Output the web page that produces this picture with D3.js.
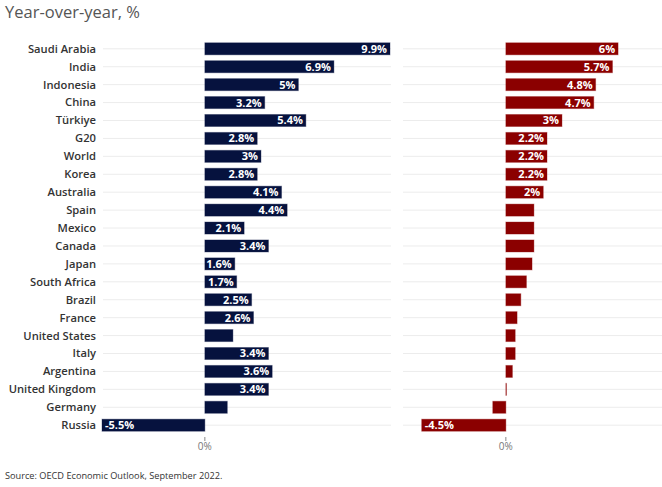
<!DOCTYPE html>
<html>
<head>
<meta charset="utf-8">
<script src="https://cdn.jsdelivr.net/npm/d3@7"></script>
<style>
  body { margin: 0; background: #fff; }
  svg { display: block; font-family: "Open Sans", "Noto Sans", sans-serif; }
</style>
</head>
<body>
<svg id="chart" width="662" height="487"></svg>
<script>
// countries, top to bottom
var countries = ["Saudi Arabia", "India", "Indonesia", "China", "Türkiye", "G20", "World", "Korea",
  "Australia", "Spain", "Mexico", "Canada", "Japan", "South Africa", "Brazil", "France",
  "United States", "Italy", "Argentina", "United Kingdom", "Germany", "Russia"];
// left panel (2022)
var growthA = [9.9, 6.9, 5, 3.2, 5.4, 2.8, 3, 2.8, 4.1, 4.4, 2.1, 3.4, 1.6, 1.7, 2.5, 2.6,
  1.5, 3.4, 3.6, 3.4, 1.2, -5.5];
// right panel (2023)
var growthB = [6, 5.7, 4.8, 4.7, 3, 2.2, 2.2, 2.2, 2, 1.5, 1.5, 1.5, 1.4, 1.1, 0.8, 0.6,
  0.5, 0.5, 0.35, 0, -0.7, -4.5];
var xTicks = [0];

var svg = d3.select("#chart");

svg.append("text")
  .attr("x", 5).attr("y", 18)
  .style("font-size", "16.5px").style("fill", "#555")
  .text("Year-over-year, %");

var y = d3.scaleBand().domain(countries).range([41, 433]).paddingInner(0.33).paddingOuter(0.1);

var domain = [-5.5, 9.9];
var panels = [
  { vals: growthA, x: d3.scaleLinear().domain(domain).range([102, 390]), color: "#06123e", grid: [103, 391] },
  { vals: growthB, x: d3.scaleLinear().domain(domain).range([403, 691]), color: "#8b0000", grid: [403, 662] }
];

// country labels
svg.append("g").selectAll("text")
  .data(countries).enter().append("text")
  .attr("x", 96)
  .attr("y", function(d) { return y(d) + y.bandwidth() / 2; })
  .attr("dy", "0.35em")
  .attr("text-anchor", "end")
  .style("font-size", "11.2px").style("font-weight", 600).style("fill", "#333")
  .text(function(d) { return d; });

panels.forEach(function(p) {
  var g = svg.append("g");
  var x = p.x;

  // gridlines
  g.selectAll("line.grid")
    .data(countries).enter().append("line")
    .attr("class", "grid")
    .attr("x1", p.grid[0]).attr("x2", p.grid[1])
    .attr("y1", function(d) { return y(d) + y.bandwidth() / 2; })
    .attr("y2", function(d) { return y(d) + y.bandwidth() / 2; })
    .style("stroke", "#ececec").style("stroke-width", 1);

  var rows = countries.map(function(c, i) { return { name: c, v: p.vals[i] }; });

  g.selectAll("rect")
    .data(rows).enter().append("rect")
    .attr("x", function(d) { return Math.min(x(0), x(d.v)); })
    .attr("y", function(d) { return y(d.name); })
    .attr("width", function(d) { return Math.max(0.6, Math.abs(x(d.v) - x(0))); })
    .attr("height", y.bandwidth())
    .style("fill", p.color)
    .style("stroke", p.color).style("stroke-opacity", 0.35).style("stroke-width", 1);

  g.selectAll("text.val")
    .data(rows.filter(function(d) { return Math.abs(d.v) >= 1.6; })).enter().append("text")
    .attr("class", "val")
    .attr("x", function(d) { return d.v >= 0 ? x(d.v) - 3 : x(d.v) + 3; })
    .attr("y", function(d) { return y(d.name) + y.bandwidth() / 2; })
    .attr("dy", "0.36em")
    .attr("text-anchor", function(d) { return d.v >= 0 ? "end" : "start"; })
    .style("font-size", "11px").style("font-weight", 700).style("fill", "#fff")
    .text(function(d) { return d.v + "%"; });

  // zero tick
  var ax = g.append("g");
  ax.selectAll("line.tick")
    .data(xTicks).enter().append("line")
    .attr("x1", function(d) { return x(d); }).attr("x2", function(d) { return x(d); })
    .attr("y1", 437).attr("y2", 441)
    .style("stroke", "#888").style("stroke-width", 1);
  ax.selectAll("text")
    .data(xTicks).enter().append("text")
    .attr("x", function(d) { return x(d); })
    .attr("y", 450)
    .attr("text-anchor", "middle")
    .style("font-size", "10px").style("fill", "#777")
    .text(function(d) { return d + "%"; });
});

svg.append("text")
  .attr("x", 5).attr("y", 479)
  .style("font-size", "9.2px").style("fill", "#333")
  .text("Source: OECD Economic Outlook, September 2022.");
</script>
</body>
</html>
